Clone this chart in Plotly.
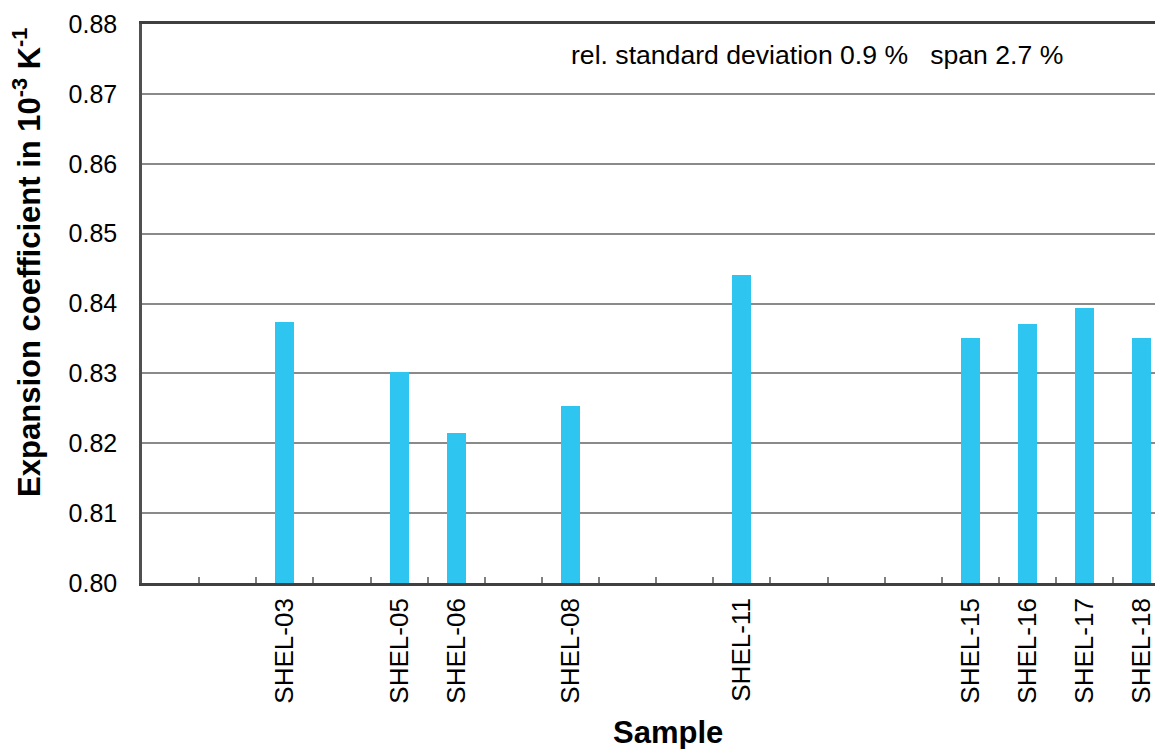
import plotly.graph_objects as go

samples = ["SHEL-%02d" % i for i in range(1, 19)]
values = [None, None, 0.8374, None, 0.8302, 0.8214, None, 0.8254, None, None,
          0.8441, None, None, None, 0.8351, 0.8371, 0.8394, 0.8350]
shown = ["SHEL-03", "SHEL-05", "SHEL-06", "SHEL-08", "SHEL-11",
         "SHEL-15", "SHEL-16", "SHEL-17", "SHEL-18"]
tick_text = [s if s in shown else "" for s in samples]
y_ticks = [0.80, 0.81, 0.82, 0.83, 0.84, 0.85, 0.86, 0.87, 0.88]

font = "Liberation Sans, Arial, sans-serif"

fig = go.Figure(
    go.Bar(
        x=samples,
        y=values,
        width=0.33,
        marker=dict(color="#2EC5F0", line=dict(width=0)),
        showlegend=False,
    )
)

fig.update_layout(
    width=1163,
    height=749,
    margin=dict(l=134, r=0, t=16, b=174),
    paper_bgcolor="white",
    plot_bgcolor="white",
    font=dict(family=font, size=25, color="black"),
    bargap=0,
    annotations=[
        dict(
            text="rel. standard deviation 0.9 %   span 2.7 %",
            xref="paper", yref="paper",
            x=0.415, y=0.945, xanchor="left", yanchor="middle",
            showarrow=False,
            font=dict(size=26.6, family=font, color="black"),
        ),
        dict(
            text="<b>Expansion coefficient in 10<sup>-3</sup> K<sup>-1</sup></b>",
            xref="paper", yref="paper",
            x=-0.112, y=0.574, xanchor="center", yanchor="middle",
            textangle=-90,
            showarrow=False,
            font=dict(size=31, family=font, color="black"),
        ),
        dict(
            text="<b>Sample</b>",
            xref="paper", yref="paper",
            x=0.511, y=-0.268, xanchor="center", yanchor="middle",
            showarrow=False,
            font=dict(size=31, family=font, color="black"),
        ),
    ],
)

fig.update_xaxes(
    type="category",
    range=[-0.5, 17.51],
    automargin=False,
    tickmode="array",
    tickvals=samples,
    ticktext=tick_text,
    tickangle=-90,
    tickson="boundaries",
    ticks="inside",
    ticklen=6,
    tickwidth=1.5,
    tickcolor="#808080",
    tickfont=dict(size=26),
    ticklabelstandoff=2,
    showline=True,
    linecolor="#404040",
    linewidth=2.5,
    mirror=True,
    showgrid=False,
)

fig.update_yaxes(
    range=[0.80, 0.88],
    automargin=False,
    tickvals=y_ticks,
    tickformat=".2f",
    ticks="",
    tickfont=dict(size=25),
    ticklabelstandoff=17,
    showline=True,
    linecolor="#505050",
    linewidth=2.5,
    showgrid=True,
    gridcolor="#8a8a8a",
    gridwidth=1.5,
    zeroline=False,
)

fig.write_html("out.html")
